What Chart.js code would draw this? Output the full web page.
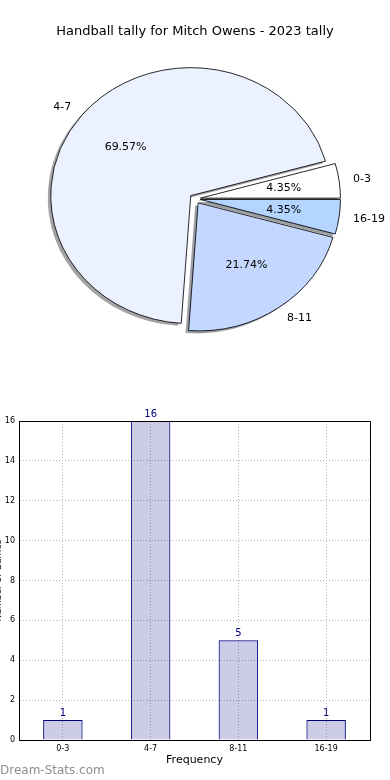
<!DOCTYPE html>
<html>
<head>
<meta charset="utf-8">
<script src="https://cdn.jsdelivr.net/npm/chart.js@4.4.1/dist/chart.umd.min.js"></script>
<style>
html, body { margin: 0; padding: 0; background: #fff; width: 390px; height: 780px; overflow: hidden; }
#pie { position: absolute; left: 0; top: 0; }
#bars { position: absolute; left: 0; top: 400px; }
#mark { position: absolute; left: 0; top: 763px; font: 12px "DejaVu Sans"; color: #8e8e8e; white-space: nowrap; }
</style>
</head>
<body>
<canvas id="pie" width="390" height="390"></canvas>
<canvas id="bars" width="390" height="380"></canvas>
<div id="mark">Dream-Stats.com</div>
<script>
const TITLE = 'Handball tally for Mitch Owens - 2023 tally';
const categories = ['0-3', '4-7', '8-11', '16-19'];
const counts = [1, 16, 5, 1];
const sliceColors = ['#ffffff', '#ebf1ff', '#c4d8ff', '#b3d5ff'];
const yTicks = [0, 2, 4, 6, 8, 10, 12, 14, 16];
const X_TITLE = 'Frequency';
const Y_TITLE = 'Number of Games';

const FONT = 'DejaVu Sans';
const total = counts.reduce((a, b) => a + b, 0);

// matplotlib draws the pie counter-clockwise from 3 o'clock, chart.js goes clockwise,
// so the pie gets the categories in reverse order
const pieLabels = categories.slice().reverse();
const pieValues = counts.slice().reverse();
const pieColors = sliceColors.slice().reverse();

const RADIUS = 128;
const SX = 140 / 128;      // the pie is a bit wider than tall
const EXPLODE = 5;

function placeWedge(ctx, arc, dx, dy) {
    const mid = (arc.startAngle + arc.endAngle) / 2;
    ctx.translate(dx, dy);
    ctx.translate(arc.x, arc.y);
    ctx.scale(SX, 1);
    ctx.translate(Math.cos(mid) * EXPLODE, Math.sin(mid) * EXPLODE);
    ctx.translate(-arc.x, -arc.y);
}

function shadowOf(hex) {
    const n = parseInt(hex.slice(1), 16);
    const r = Math.round(((n >> 16) & 255) * 0.3);
    const g = Math.round(((n >> 8) & 255) * 0.3);
    const b = Math.round((n & 255) * 0.3);
    return 'rgba(' + r + ',' + g + ',' + b + ',0.5)';
}

const pieLook = {
    id: 'pieLook',
    beforeDatasetsDraw(chart) {
        const ctx = chart.ctx;
        const arcs = chart.getDatasetMeta(0).data;
        arcs.forEach(arc => {
            if (arc.baseDraw) return;
            arc.baseDraw = arc.draw;
            arc.draw = function (c) {
                c.save();
                placeWedge(c, this, 0, 0);
                this.baseDraw(c);
                c.restore();
            };
        });
        // shadows go under every wedge
        arcs.forEach((arc, i) => {
            const opts = arc.options;
            const col = shadowOf(pieColors[i]);
            arc.options = Object.assign({}, opts, { backgroundColor: col, borderColor: col, borderWidth: 0 });
            ctx.save();
            placeWedge(ctx, arc, -3, 2.5);
            arc.baseDraw(ctx);
            ctx.restore();
            arc.options = opts;
        });
    },
    afterDatasetsDraw(chart) {
        const ctx = chart.ctx;
        ctx.save();
        ctx.fillStyle = '#000';
        ctx.font = '11px "' + FONT + '"';
        ctx.textBaseline = 'middle';
        chart.getDatasetMeta(0).data.forEach((arc, i) => {
            const mid = (arc.startAngle + arc.endAngle) / 2;
            const c = Math.cos(mid), s = Math.sin(mid);
            const cx = arc.x + SX * EXPLODE * c;
            const cy = arc.y + EXPLODE * s;
            const r = arc.outerRadius;
            ctx.textAlign = c < 0 ? 'right' : 'left';
            ctx.fillText(pieLabels[i], cx + SX * 1.1 * r * c, cy + 1.1 * r * s);
            ctx.textAlign = 'center';
            const pct = (pieValues[i] / total * 100).toFixed(2) + '%';
            ctx.fillText(pct, cx + SX * 0.6 * r * c, cy + 0.6 * r * s);
        });
        ctx.restore();
    }
};

new Chart(document.getElementById('pie'), {
    type: 'pie',
    data: {
        labels: pieLabels,
        datasets: [{
            data: pieValues,
            backgroundColor: pieColors,
            borderColor: '#000',
            borderWidth: 0.8
        }]
    },
    options: {
        responsive: false,
        animation: false,
        rotation: 90,
        radius: RADIUS,
        layout: { padding: { left: 0, right: 0, top: 0, bottom: 40.4 } },
        plugins: {
            legend: { display: false },
            tooltip: { enabled: false },
            title: {
                display: true,
                text: TITLE,
                color: '#000',
                font: { family: FONT, size: 13, weight: 'normal' },
                padding: { top: 24, bottom: 8.4 }
            }
        }
    },
    plugins: [pieLook]
});

const frame = {
    id: 'frame',
    afterDatasetsDraw(chart) {
        const { left, top, right, bottom } = chart.chartArea;
        const ctx = chart.ctx;
        ctx.save();
        ctx.strokeStyle = '#000';
        ctx.lineWidth = 1;
        ctx.setLineDash([]);
        ctx.strokeRect(Math.round(left) + 0.5, Math.round(top) + 0.5,
            Math.round(right) - Math.round(left), Math.round(bottom) - Math.round(top));
        ctx.restore();
    }
};

const valueLabels = {
    id: 'valueLabels',
    afterDatasetsDraw(chart) {
        const ctx = chart.ctx;
        ctx.save();
        ctx.fillStyle = '#00007f';
        ctx.font = '10px "' + FONT + '"';
        ctx.textAlign = 'center';
        ctx.textBaseline = 'alphabetic';
        chart.getDatasetMeta(0).data.forEach((bar, i) => {
            ctx.fillText(counts[i], bar.x, bar.y - 4);
        });
        ctx.restore();
    }
};

const gridStyle = { color: '#b4b4b4', lineWidth: 1, drawTicks: false };

new Chart(document.getElementById('bars'), {
    type: 'bar',
    data: {
        labels: categories,
        datasets: [{
            data: counts,
            backgroundColor: 'rgba(0, 0, 128, 0.2)',
            borderColor: '#000080',
            borderWidth: 1,
            categoryPercentage: 1,
            barPercentage: 0.45
        }]
    },
    options: {
        responsive: false,
        animation: false,
        layout: { padding: { top: 21, right: 20, bottom: 13, left: 0 } },
        plugins: {
            legend: { display: false },
            tooltip: { enabled: false }
        },
        scales: {
            x: {
                grid: Object.assign({ offset: false }, gridStyle),
                border: { color: '#000', width: 1, dash: [1, 2] },
                ticks: { color: '#000', padding: 4, font: { family: FONT, size: 8 } },
                title: {
                    display: true, text: X_TITLE, color: '#000',
                    font: { family: FONT, size: 11 }, padding: { top: 0, bottom: 0 }
                },
                afterFit(s) { s.height = 27; }
            },
            y: {
                min: yTicks[0],
                max: yTicks[yTicks.length - 1],
                afterBuildTicks(s) { s.ticks = yTicks.map(v => ({ value: v })); },
                grid: gridStyle,
                border: { color: '#000', width: 1, dash: [1, 2] },
                ticks: { color: '#000', padding: 4, font: { family: FONT, size: 8 } },
                title: {
                    display: true, text: Y_TITLE, color: '#000',
                    font: { family: FONT, size: 9 }, padding: { top: -6.8, bottom: 0 }
                },
                afterFit(s) { s.width = 19; }
            }
        }
    },
    plugins: [frame, valueLabels]
});
</script>
</body>
</html>
